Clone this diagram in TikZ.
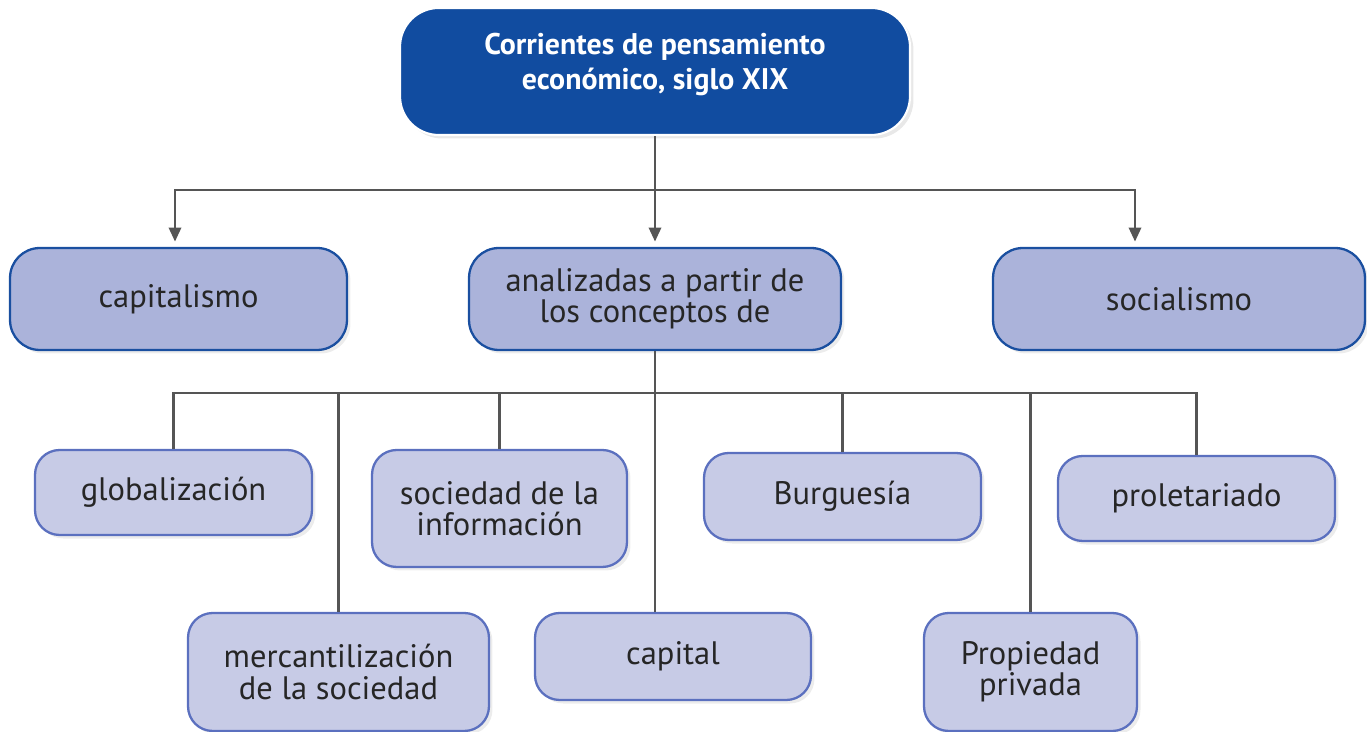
\documentclass[tikz,border=0pt]{standalone}
\usepackage{fontspec}
\setmainfont{PT Sans}
\usepackage{tikz}
\usetikzlibrary{arrows.meta,shadows,calc}
\definecolor{topblue}{HTML}{114CA0}
\definecolor{midfill}{HTML}{ABB3DA}
\definecolor{midline}{HTML}{1A4FA0}
\definecolor{lowfill}{HTML}{C7CBE6}
\definecolor{lowline}{HTML}{5B70BF}
\definecolor{linkgray}{HTML}{555555}
\tikzstyle{topbox}=[rectangle,rounded corners=22pt,fill=topblue,draw=white,line width=1.2pt,text=white,font=\fontsize{17}{19.8}\selectfont\bfseries,align=center,inner sep=0pt,drop shadow={opacity=0.18,shadow xshift=2pt,shadow yshift=-2pt}]
\tikzstyle{midbox}=[rectangle,rounded corners=17pt,fill=midfill,draw=midline,line width=1.3pt,text=black!85,font=\fontsize{18.5}{17.8}\selectfont,align=center,inner sep=0pt,drop shadow={opacity=0.15,shadow xshift=2pt,shadow yshift=-2pt}]
\tikzstyle{lowbox}=[rectangle,rounded corners=14pt,fill=lowfill,draw=lowline,line width=1.3pt,text=black!85,font=\fontsize{18.5}{17.8}\selectfont,align=center,inner sep=0pt,drop shadow={opacity=0.15,shadow xshift=2pt,shadow yshift=-2pt}]
\tikzstyle{link}=[draw=linkgray,line width=1.4pt]
\tikzstyle{arrowlink}=[link,-{Triangle[length=8pt,width=7pt]},shorten >=3pt]
\begin{document}
\begin{tikzpicture}[x=0.02cm,y=-0.02cm]

    \useasboundingbox (0,0) rectangle (1367,732);

    % top node
    \node[topbox, minimum width=10.2cm, minimum height=2.54cm] (corr) at (655,71.5) {Corrientes de pensamiento\\económico, siglo XIX\\[-8pt]\mbox{}};

    % second level
    \node[midbox, minimum width=6.74cm, minimum height=2.04cm] (capi) at (178.5,299) {capitalismo};
    \node[midbox, minimum width=7.44cm, minimum height=2.04cm] (anal) at (655,299) {analizadas a partir de\\los conceptos de};
    \node[midbox, minimum width=7.44cm, minimum height=2.04cm] (soci) at (1179,299) {socialismo};

    % concepts
    \foreach \x/\y/\w/\h/\name/\txt in {
        173.5/492.5/5.54/1.70/glob/{globalización},
        499.5/508.5/5.10/2.34/info/{sociedad de la\\información},
        842.5/496.5/5.54/1.74/burg/{Burguesía},
        1196.5/498.5/5.54/1.70/prol/{proletariado},
        338.5/672/6.02/2.36/merc/{mercantilización\\de la sociedad},
        673/656.5/5.52/1.74/capt/{capital},
        1030.5/672/4.26/2.36/prop/{Propiedad\\privada}}
        \node[lowbox, minimum width=\w cm, minimum height=\h cm] (\name) at (\x,\y) {\txt};

    % links from the top node
    \coordinate (bus1) at (655,190);
    \path[link] (corr.south) -- (bus1);
    \path[arrowlink] (bus1) -| ($(capi.north)+(-3.5,0)$);
    \path[arrowlink] (bus1) -- (anal.north);
    \path[arrowlink] (bus1) -| ($(soci.north)+(-44,0)$);

    % links to the concepts
    \coordinate (bus2) at (655,393);
    \path[link] (anal.south) -- (bus2);
    \foreach \dest in {glob, merc, info, burg, prop, prol}
        \path[link] (bus2) -| (\dest.north);
    \path[link] (bus2) -- (bus2 |- capt.north);

\end{tikzpicture}
\end{document}
